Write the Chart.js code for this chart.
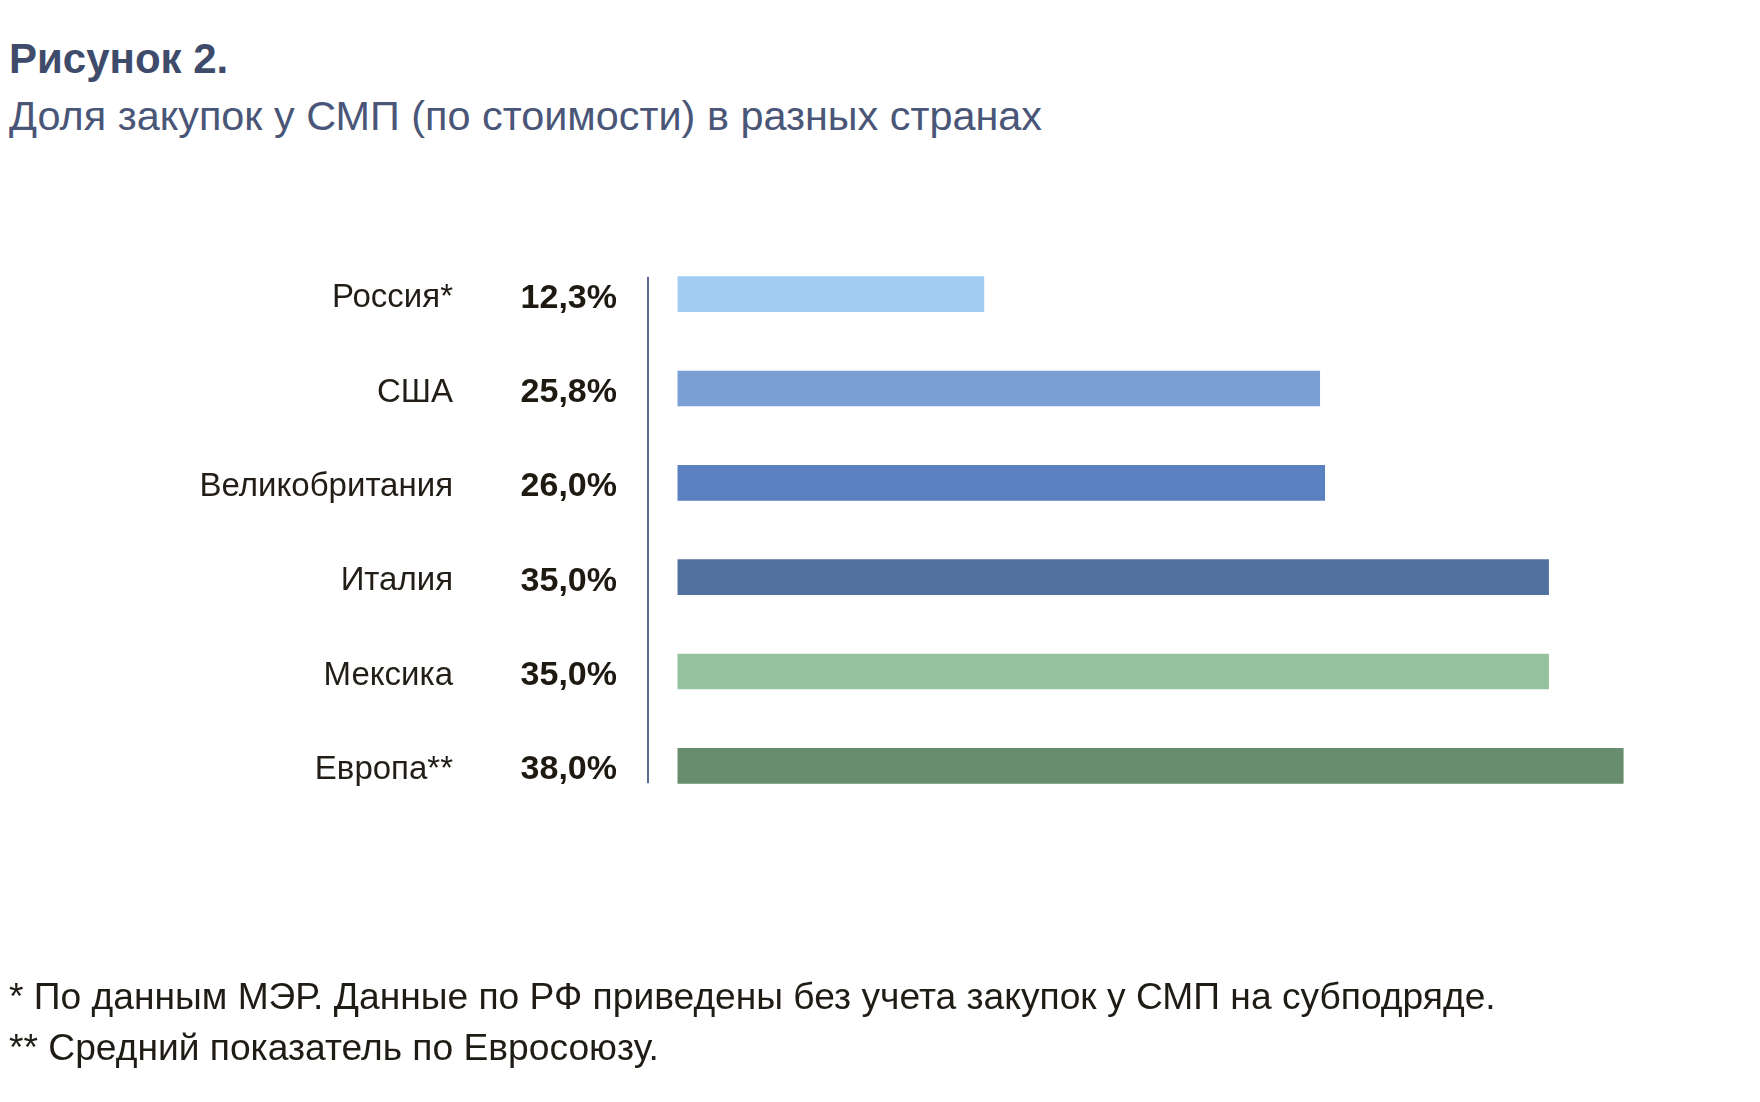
<!DOCTYPE html>
<html>
<head>
<meta charset="utf-8">
<script src="https://cdn.jsdelivr.net/npm/chart.js@4"></script>
<style>
  html, body { margin: 0; padding: 0; background: #fff; }
  body { width: 1760px; height: 1102px; position: relative; overflow: hidden; font-family: "Liberation Sans", Arial, sans-serif; }
  .txt { position: absolute; left: 9px; line-height: 1; white-space: nowrap; }
  #title { top: 38px; font-size: 42px; font-weight: bold; color: #3f4b6b; }
  #subtitle { top: 96px; font-size: 41.4px; color: #4a5677; }
  .note { font-size: 37.2px; color: #1f1b15; }
  #note1 { top: 978px; }
  #note2 { top: 1029px; }
  #wrap { position: absolute; left: 0; top: 0; width: 1760px; height: 1102px; }
</style>
</head>
<body>
<div id="title" class="txt">Рисунок 2.</div>
<div id="subtitle" class="txt">Доля закупок у СМП (по стоимости) в разных странах</div>
<div id="wrap"><canvas id="smpChart" width="1760" height="1102"></canvas></div>
<div id="note1" class="txt note">* По данным МЭР. Данные по РФ приведены без учета закупок у СМП на субподряде.</div>
<div id="note2" class="txt note">** Средний показатель по Евросоюзу.</div>

<script>
// Countries and their share of procurement from SMEs, %
const countries = ['Россия*', 'США', 'Великобритания', 'Италия', 'Мексика', 'Европа**'];
const shares = [12.3, 25.8, 26.0, 35.0, 35.0, 38.0];
const barColors = ['#a2cdf2', '#7b9fd4', '#5b80bf', '#51729f', '#95c29e', '#678c6e'];

const shareLabels = shares.map(v => v.toFixed(1).replace('.', ',') + '%');

// vertical line at the left edge of the bars
const axisLine = {
  id: 'axisLine',
  afterDatasetsDraw(chart) {
    const y = chart.scales.y;
    const half = 17.5;
    const top = y.getPixelForValue(0) - half;
    const bottom = y.getPixelForValue(countries.length - 1) + half;
    const x = chart.chartArea.left;
    const c = chart.ctx;
    c.save();
    c.strokeStyle = '#5d6b8d';
    c.lineWidth = 2;
    c.beginPath();
    c.moveTo(x, top);
    c.lineTo(x, bottom);
    c.stroke();
    c.restore();
  }
};

let ctx = document.getElementById('smpChart').getContext('2d');
let smpChart = new Chart(ctx, {
  type: 'bar',
  data: {
    labels: countries,
    datasets: [{
      data: shares,
      backgroundColor: barColors,
      borderWidth: 0,
      barThickness: 35
    }]
  },
  options: {
    indexAxis: 'y',
    responsive: false,
    maintainAspectRatio: false,
    animation: false,
    layout: { padding: { left: 0, right: 87, top: 247, bottom: 289 } },
    plugins: { legend: { display: false }, tooltip: { enabled: false } },
    scales: {
      x: {
        min: -1.2,
        max: 40,
        display: false
      },
      y: {
        weight: 1,
        grid: { display: false, drawTicks: false },
        border: { display: false },
        ticks: {
          padding: 35,
          labelOffset: 4,
          color: '#221e17',
          font: { family: 'Liberation Sans', size: 33 }
        },
        afterFit(axis) { axis.width = 488; }
      },
      yv: {
        type: 'category',
        position: 'left',
        labels: shareLabels,
        offset: true,
        weight: 0,
        grid: { display: false, drawTicks: false },
        border: { display: false },
        ticks: {
          padding: 31,
          labelOffset: 4,
          color: '#1e1a12',
          font: { family: 'Liberation Sans', size: 34, weight: 'bold' }
        },
        afterFit(axis) { axis.width = 160; }
      }
    }
  },
  plugins: [axisLine]
});
</script>
</body>
</html>
